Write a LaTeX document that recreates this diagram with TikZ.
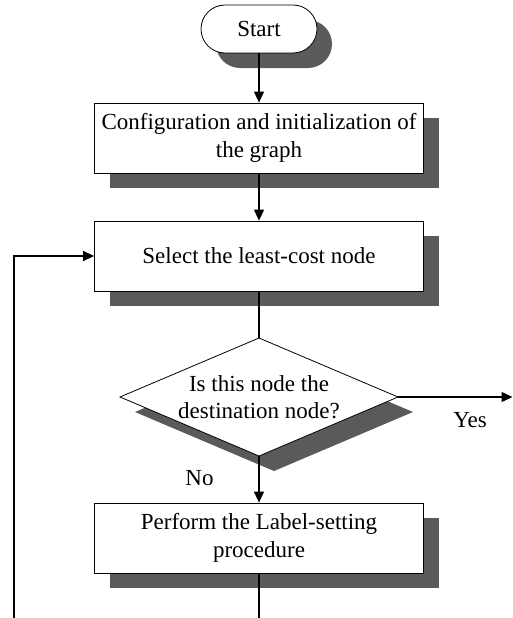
\documentclass[tikz,border=0pt]{standalone}
\usepackage{fontspec}
\setmainfont{Liberation Serif}
\usetikzlibrary{arrows.meta}
\definecolor{shadowgray}{RGB}{90,90,90}
\begin{document}
\begin{tikzpicture}[x=1pt,y=-1pt,
  txt/.style={font=\fontsize{23}{27.6}\selectfont},
  box/.style={txt, draw=black, line width=0.8pt, fill=white, minimum width=329pt, minimum height=70pt, align=center, inner sep=0pt},
  shadowbox/.style={fill=shadowgray, minimum width=329pt, minimum height=70pt, inner sep=0pt},
  pill/.style={txt, draw=black, line width=0.8pt, fill=white, minimum width=116pt, minimum height=48pt, rounded corners=24pt, inner sep=0pt},
  shadowpill/.style={fill=shadowgray, minimum width=116pt, minimum height=48pt, rounded corners=24pt, inner sep=0pt},
  conn/.style={line width=1.3pt, -{Triangle[length=11pt,width=10pt]}},
  plain/.style={line width=1.3pt},
  lbl/.style={txt, inner sep=0pt, anchor=base}]
\useasboundingbox (0,0) rectangle (513,618);

% shadows
\node[shadowpill] (startS) at (274,44) {};
\node[shadowbox] (initS) at (274,153) {};
\node[shadowbox] (selS) at (274,271) {};
\fill[shadowgray] (274,353) -- (413,412) -- (274,471) -- (135,412) -- cycle;
\node[shadowbox] (labS) at (274,553) {};

% shapes
\node[pill] (start) at (259,29) {Start};
\node[box] (init) at (259,138) {Configuration and initialization of\\the graph};
\node[box] (sel) at (259,256) {Select the least-cost node};
\coordinate (dT) at (259,338);
\coordinate (dR) at (398,397);
\coordinate (dB) at (259,456);
\coordinate (dL) at (120,397);
\draw[line width=0.8pt, fill=white] (dT) -- (dR) -- (dB) -- (dL) -- cycle;
\node[txt, align=center, inner sep=0pt] (dec) at (259,397) {Is this node the\\destination node?};
\node[box] (lab) at (259,538) {Perform the Label-setting\\procedure};

% labels
\node[lbl] (yes) at (470,427) {Yes};
\node[lbl] (no) at (199.5,485) {No};

% connectors
\coordinate (yesEnd) at (512.5,397);
\coordinate (bot) at (259,618);
\coordinate (loopB) at (14,618);
\draw[conn] (start.south) -- (init.north);
\draw[conn] (init.south) -- (sel.north);
\draw[plain] (sel.south) -- (dT);
\draw[conn] (dR) -- (yesEnd);
\draw[conn] (dB) -- (lab.north);
\draw[plain] (lab.south) -- (bot);
\draw[conn] (loopB) |- (sel.west);
\end{tikzpicture}
\end{document}
